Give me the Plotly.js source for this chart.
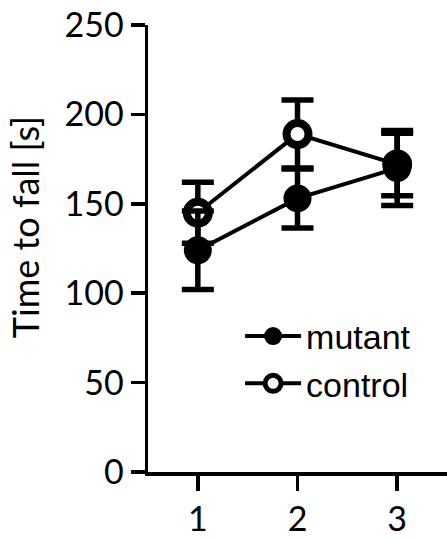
<!DOCTYPE html>
<html>
<head>
<meta charset="utf-8">
<script src="https://cdn.plot.ly/plotly-3.0.1.min.js"></script>
<style>
  html, body { margin: 0; padding: 0; background: #ffffff; }
  #chart { width: 447px; height: 540px; }
</style>
</head>
<body>
<div id="chart"></div>
<script>
// ---- data ----
const sessions = [1, 2, 3];
const sessionLabels = ['1', '2', '3'];
const mutantMean = [124, 153, 170];
const mutantSem = [22, 16.5, 21];
const controlMean = [145, 189, 172];
const controlSem = [17, 19, 17.5];
const yTickVals = [0, 50, 100, 150, 200, 250];
const yTickText = ['0', '50', '100', '150', '200', '250'];
const seriesNames = ['mutant', 'control'];
const yTitle = 'Time to fall [s]';

const tickFont = { family: 'Lato, "Open Sans", sans-serif', size: 34, color: '#000000' };
const legendFont = { family: '"Liberation Sans", Arial, sans-serif', size: 34, color: '#000000' };

const errStyle = { type: 'data', visible: true, color: '#000000', thickness: 5.5, width: 16 };

const controlTrace = {
  type: 'scatter', mode: 'lines+markers', name: seriesNames[1],
  x: sessions, y: controlMean,
  error_y: Object.assign({ array: controlSem }, errStyle),
  line: { color: '#000000', width: 4 },
  marker: { symbol: 'circle', size: 22, color: '#ffffff', line: { color: '#000000', width: 8 } },
  cliponaxis: false
};
const mutantTrace = {
  type: 'scatter', mode: 'lines+markers', name: seriesNames[0],
  x: sessions, y: mutantMean,
  error_y: Object.assign({ array: mutantSem }, errStyle),
  line: { color: '#000000', width: 4 },
  marker: { symbol: 'circle', size: 26, color: '#000000', line: { color: '#000000', width: 2 } },
  cliponaxis: false
};

const layout = {
  width: 447, height: 540,
  margin: { l: 148, r: 0, t: 25, b: 68 },
  paper_bgcolor: '#ffffff', plot_bgcolor: '#ffffff',
  showlegend: true,
  legend: {
    x: 0.308, y: 0.368, xanchor: 'left', yanchor: 'top',
    traceorder: 'reversed', font: legendFont,
    bgcolor: 'rgba(0,0,0,0)', borderwidth: 0, itemwidth: 56
  },
  xaxis: {
    range: [0.5, 3.5], tickvals: sessions, ticktext: sessionLabels,
    showline: true, linecolor: '#000000', linewidth: 3.5,
    ticks: 'outside', ticklen: 15, tickwidth: 3.5, tickcolor: '#000000',
    showgrid: false, zeroline: false, tickfont: tickFont, fixedrange: true
  },
  yaxis: {
    range: [0, 250], tickvals: yTickVals, ticktext: yTickText,
    showline: true, linecolor: '#000000', linewidth: 3.5,
    ticks: 'outside', ticklen: 14, tickwidth: 3.5, tickcolor: '#000000',
    showgrid: false, zeroline: false, tickfont: tickFont, fixedrange: true
  },
  annotations: [{
    text: yTitle, xref: 'paper', yref: 'paper',
    x: -0.411, y: 0.548, xanchor: 'center', yanchor: 'middle',
    textangle: -90, showarrow: false,
    font: { family: 'Lato, "Open Sans", sans-serif', size: 36, color: '#000000' }
  }]
};

Plotly.newPlot('chart', [controlTrace, mutantTrace], layout, { staticPlot: true, displayModeBar: false });
</script>
</body>
</html>
